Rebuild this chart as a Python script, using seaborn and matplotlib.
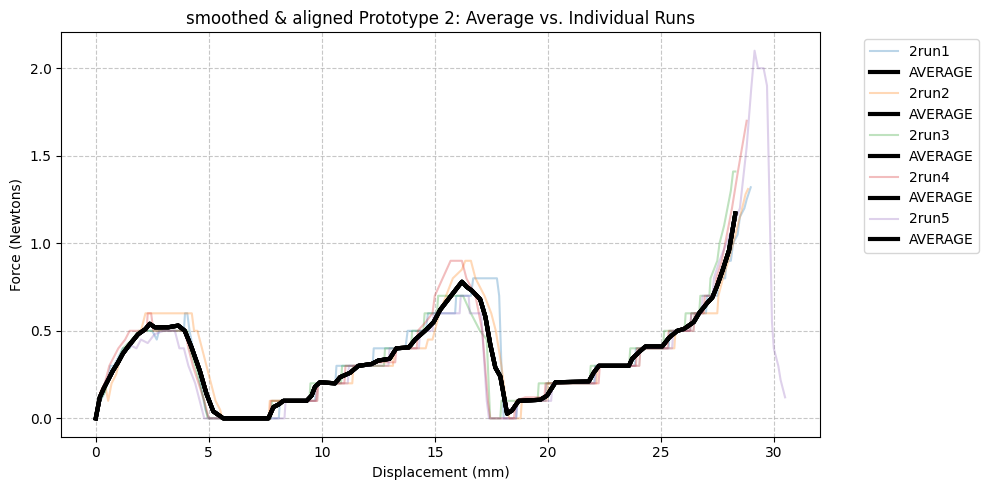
import matplotlib
matplotlib.use('Agg')
import matplotlib.pyplot as plt
import pandas as pd
import seaborn as sns

# breakpoints (displacement mm, force N)
run1_x = [0, 0.2, 0.4, 0.5, 0.65, 0.8, 1.0, 1.2, 1.5, 1.7, 2.0, 2.5, 2.7, 2.8, 3.9, 3.95, 4.05, 4.15, 4.3, 4.5, 4.7, 4.85, 5.0,
          8.1, 8.15, 9.7, 9.75, 10.6, 10.65, 12.25, 12.3, 13.7, 13.8, 14.6, 14.7, 15.9, 15.95, 16.6, 16.7, 17.75, 17.85,
          17.95, 18.05, 18.6, 18.65, 19.9, 19.95, 22.05, 22.1, 23.85, 23.9, 25.35, 25.4, 26.3, 26.35, 27.0, 27.05, 27.5,
          27.55, 27.85, 27.9, 28.1, 28.2, 28.4, 28.5, 28.7, 28.8, 28.98]
run1_y = [0, 0.1, 0.15, 0.2, 0.3, 0.3, 0.35, 0.4, 0.4, 0.45, 0.5, 0.5, 0.45, 0.5, 0.5, 0.6, 0.6, 0.5, 0.4, 0.3, 0.15, 0.05, 0,
          0, 0.1, 0.1, 0.2, 0.2, 0.3, 0.3, 0.4, 0.4, 0.5, 0.5, 0.6, 0.6, 0.7, 0.7, 0.8, 0.8, 0.7,
          0.3, 0, 0, 0.1, 0.1, 0.2, 0.2, 0.3, 0.3, 0.4, 0.4, 0.5, 0.5, 0.6, 0.6, 0.7, 0.7,
          0.8, 0.8, 0.9, 0.9, 1.0, 1.05, 1.15, 1.2, 1.25, 1.32]

run2_x = [0, 0.2, 0.4, 0.55, 0.7, 0.9, 1.1, 1.4, 1.7, 2.0, 2.2, 4.25, 4.35, 4.5, 4.7, 4.9, 5.1, 5.3, 5.5, 5.6,
          7.65, 7.7, 9.8, 9.85, 11.35, 11.4, 13.15, 13.2, 14.6, 14.7, 14.9, 15.0, 15.2, 15.5, 15.8, 16.2, 16.35, 16.6,
          16.8, 17.2, 17.5, 17.7, 17.95, 18.2, 18.3, 18.8, 18.85, 19.95, 20.0, 22.15, 22.2, 24.05, 24.1, 25.6, 25.65,
          26.45, 26.5, 27.5, 27.55, 27.75, 28.0, 28.2, 28.4, 28.6, 28.75, 28.86]
run2_y = [0, 0.12, 0.2, 0.1, 0.2, 0.25, 0.35, 0.4, 0.45, 0.5, 0.6, 0.6, 0.5, 0.5, 0.4, 0.3, 0.2, 0.1, 0.05, 0,
          0, 0.1, 0.1, 0.2, 0.2, 0.3, 0.3, 0.4, 0.4, 0.45, 0.45, 0.5, 0.6, 0.7, 0.8, 0.85, 0.9, 0.9,
          0.8, 0.7, 0.6, 0.5, 0.3, 0.05, 0, 0, 0.1, 0.1, 0.2, 0.2, 0.3, 0.3, 0.4, 0.4, 0.5,
          0.5, 0.6, 0.6, 0.7, 0.8, 0.9, 1.0, 1.1, 1.2, 1.28, 1.31]

run3_x = [0, 0.2, 0.4, 0.6, 0.9, 1.2, 1.6, 1.9, 4.05, 4.15, 4.4, 4.6, 4.8, 4.95, 7.75, 7.8, 9.45, 9.5, 10.85, 10.9,
          12.75, 12.8, 13.95, 14.0, 14.5, 14.55, 15.1, 15.15, 16.25, 16.6, 17.0, 17.3, 17.45, 17.9, 17.95, 19.55, 19.6,
          21.85, 21.9, 23.6, 23.65, 25.1, 25.15, 26.05, 26.1, 26.7, 26.75, 27.15, 27.2, 27.5, 27.6, 27.8, 27.95, 28.1,
          28.2, 28.3]
run3_y = [0, 0.1, 0.15, 0.25, 0.3, 0.4, 0.45, 0.5, 0.5, 0.4, 0.3, 0.2, 0.1, 0, 0, 0.1, 0.1, 0.2, 0.2, 0.3,
          0.3, 0.4, 0.4, 0.5, 0.5, 0.6, 0.6, 0.7, 0.7, 0.6, 0.5, 0.45, 0, 0, 0.1, 0.1, 0.2,
          0.2, 0.3, 0.3, 0.4, 0.4, 0.5, 0.5, 0.6, 0.6, 0.7, 0.7, 0.8, 0.9, 1.0, 1.1, 1.2, 1.3,
          1.41, 1.41]

run4_x = [0, 0.2, 0.4, 0.6, 0.8, 1.0, 1.3, 1.5, 2.25, 2.3, 2.45, 2.55, 3.95, 4.1, 4.3, 4.55, 4.8, 5.0, 7.7, 7.75,
          9.75, 9.8, 11.0, 11.05, 11.8, 12.5, 13.25, 13.3, 14.2, 14.25, 14.6, 14.9, 15.0, 15.35, 15.7, 16.2, 16.4,
          16.8, 17.1, 17.35, 17.45, 18.5, 18.6, 19.0, 19.85, 19.9, 22.25, 22.3, 23.9, 23.95, 25.3, 25.35, 26.3, 26.35,
          26.9, 26.95, 27.4, 27.45, 27.7, 27.85, 28.15, 28.4, 28.6, 28.8]
run4_y = [0, 0.15, 0.2, 0.3, 0.35, 0.4, 0.45, 0.5, 0.5, 0.6, 0.6, 0.5, 0.5, 0.4, 0.3, 0.2, 0.1, 0, 0, 0.1,
          0.1, 0.2, 0.2, 0.3, 0.3, 0.32, 0.32, 0.4, 0.4, 0.5, 0.55, 0.6, 0.7, 0.8, 0.9, 0.9, 0.8,
          0.7, 0.5, 0.1, 0, 0, 0.1, 0.12, 0.12, 0.2, 0.2, 0.3, 0.3, 0.4, 0.4, 0.5, 0.5, 0.6,
          0.6, 0.7, 0.7, 0.8, 0.9, 1.0, 1.2, 1.4, 1.55, 1.7]

run5_x = [0, 0.2, 0.4, 0.6, 0.9, 1.2, 1.5, 1.8, 2.0, 2.3, 2.6, 3.0, 3.5, 3.6, 3.7, 3.9, 4.1, 4.4, 4.6, 4.8,
          8.35, 8.4, 9.8, 9.85, 11.15, 11.2, 12.95, 13.0, 14.3, 14.35, 14.9, 14.95, 16.1, 16.15, 16.5, 16.55, 17.05,
          17.3, 17.4, 18.6, 18.65, 20.15, 20.2, 22.1, 22.15, 24.05, 24.1, 25.5, 25.55, 26.45, 26.5, 26.8, 26.85, 27.3,
          27.35, 27.6, 27.9, 28.2, 28.5, 28.8, 29.0, 29.15, 29.3, 29.55, 29.7, 29.85, 29.92, 30.0, 30.2, 30.3, 30.5]
run5_y = [0, 0.1, 0.2, 0.25, 0.3, 0.38, 0.42, 0.4, 0.45, 0.43, 0.48, 0.5, 0.5, 0.45, 0.4, 0.4, 0.3, 0.2, 0.1, 0,
          0, 0.1, 0.1, 0.2, 0.2, 0.3, 0.3, 0.4, 0.4, 0.5, 0.5, 0.6, 0.6, 0.7, 0.7, 0.6, 0.6,
          0.1, 0, 0, 0.1, 0.1, 0.2, 0.2, 0.3, 0.3, 0.4, 0.4, 0.5, 0.5, 0.6, 0.6, 0.7, 0.7,
          0.8, 0.9, 1.0, 1.1, 1.2, 1.55, 1.88, 2.1, 2.0, 2.0, 1.9, 1.0, 0.55, 0.4, 0.3, 0.22, 0.12]

avg_x = [0, 0.18, 0.35, 0.55, 0.75, 0.99, 1.2, 1.43, 1.87, 2.2, 2.39, 2.61, 3.2, 3.65, 3.94, 4.24, 4.61, 4.9, 5.2,
         5.64, 7.64, 7.86, 8.1, 8.3, 9.33, 9.55, 9.7, 9.92, 10.59, 10.81, 11.25, 11.62, 12.2, 12.5, 13.0, 13.3, 13.85,
         14.13, 14.65, 14.95, 15.24, 15.54, 15.9, 16.2, 16.42, 16.64, 17.01, 17.24, 17.46, 17.68, 17.9, 18.2, 18.42,
         18.71, 19.67, 19.97, 20.34, 21.81, 22.03, 22.26, 23.59, 23.73, 24.1, 24.32, 25.06, 25.36, 25.73, 26.02,
         26.46, 26.69, 27.06, 27.28, 27.5, 27.72, 28.02, 28.3]
avg_y = [0, 0.12, 0.17, 0.22, 0.27, 0.32, 0.37, 0.41, 0.48, 0.51, 0.54, 0.52, 0.52, 0.53, 0.5, 0.405, 0.27, 0.14,
         0.04, 0.0, 0.0, 0.064, 0.08, 0.1, 0.1, 0.13, 0.18, 0.206, 0.2, 0.235, 0.26, 0.3, 0.31, 0.33, 0.34, 0.4, 0.405,
         0.45, 0.51, 0.55, 0.62, 0.67, 0.73, 0.78, 0.75, 0.73, 0.68, 0.58, 0.42, 0.29, 0.24, 0.027, 0.045,
         0.1, 0.106, 0.13, 0.206, 0.21, 0.26, 0.3, 0.3, 0.34, 0.386, 0.41, 0.41, 0.46, 0.5, 0.51,
         0.55, 0.60, 0.66, 0.69, 0.76, 0.84, 0.96, 1.17]

run_names = ['2run1', '2run2', '2run3', '2run4', '2run5']
runs_x = [run1_x, run2_x, run3_x, run4_x, run5_x]
runs_y = [run1_y, run2_y, run3_y, run4_y, run5_y]

avg = pd.DataFrame({'disp': avg_x, 'force': avg_y})
colors = sns.color_palette('tab10', 5)

fig, ax = plt.subplots(figsize=(10, 5))
for name, xs, ys, c in zip(run_names, runs_x, runs_y, colors):
    df = pd.DataFrame({'disp': xs, 'force': ys})
    sns.lineplot(data=df, x='disp', y='force', ax=ax, color=c, alpha=0.3,
                 linewidth=1.5, label=name, sort=False, estimator=None)
    sns.lineplot(data=avg, x='disp', y='force', ax=ax, color='black',
                 linewidth=3, label='AVERAGE', sort=False, estimator=None)

ax.set_title('smoothed & aligned Prototype 2: Average vs. Individual Runs')
ax.set_xlabel('Displacement (mm)')
ax.set_ylabel('Force (Newtons)')
ax.grid(True, linestyle='--', alpha=0.7)
ax.legend(bbox_to_anchor=(1.05, 1), loc='upper left')
plt.tight_layout()
plt.savefig('out.png', dpi=100, bbox_inches='tight')
